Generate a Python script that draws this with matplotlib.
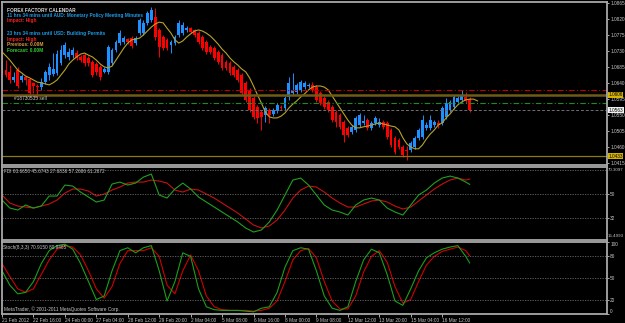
import matplotlib
matplotlib.use('Agg')
import matplotlib.pyplot as plt
import numpy as np

plt.rcParams['font.family'] = ['Liberation Sans', 'DejaVu Sans']

# ---------------- data ----------------
opens = [1.0738, 1.0676, 1.0671, 1.0648, 1.0676, 1.0648, 1.0656, 1.0651, 1.0640, 1.0631,
         1.0628, 1.0642, 1.0662, 1.0665, 1.0668, 1.0696, 1.0718, 1.0713, 1.0718, 1.0724,
         1.0713, 1.0718, 1.0710, 1.0699, 1.0693, 1.0685, 1.0671, 1.0671, 1.0696, 1.0733,
         1.0752, 1.0755, 1.0763, 1.0766, 1.0752, 1.0780, 1.0780, 1.0809, 1.0817, 1.0826,
         1.0789, 1.0769, 1.0761, 1.0747, 1.0752, 1.0775, 1.0780, 1.0789, 1.0794, 1.0789,
         1.0780, 1.0769, 1.0755, 1.0741, 1.0738, 1.0727, 1.0718, 1.0699, 1.0696, 1.0685,
         1.0676, 1.0662, 1.0640, 1.0620, 1.0597, 1.0572, 1.0558, 1.0549, 1.0563, 1.0552,
         1.0561, 1.0572, 1.0569, 1.0600, 1.0611, 1.0614, 1.0620, 1.0628, 1.0631, 1.0634,
         1.0628, 1.0611, 1.0597, 1.0586, 1.0572, 1.0558, 1.0549, 1.0530, 1.0513, 1.0501,
         1.0507, 1.0521, 1.0527, 1.0535, 1.0513, 1.0527, 1.0521, 1.0530, 1.0527, 1.0507,
         1.0485, 1.0479, 1.0459, 1.0451, 1.0451, 1.0459, 1.0485, 1.0487, 1.0513, 1.0513,
         1.0521, 1.0527, 1.0527, 1.0544, 1.0563, 1.0572, 1.0586, 1.0592, 1.0600, 1.0594]

closes = [1.0676, 1.0662, 1.0648, 1.0656, 1.0631, 1.0659, 1.0648, 1.0611, 1.0631, 1.0628,
          1.0642, 1.0671, 1.0685, 1.0679, 1.0721, 1.0733, 1.0747, 1.0727, 1.0733, 1.0710,
          1.0704, 1.0696, 1.0696, 1.0662, 1.0671, 1.0656, 1.0679, 1.0741, 1.0733, 1.0755,
          1.0780, 1.0766, 1.0755, 1.0744, 1.0766, 1.0817, 1.0809, 1.0837, 1.0845, 1.0769,
          1.0741, 1.0738, 1.0738, 1.0755, 1.0769, 1.0809, 1.0803, 1.0794, 1.0783, 1.0775,
          1.0755, 1.0738, 1.0727, 1.0727, 1.0710, 1.0699, 1.0682, 1.0682, 1.0668, 1.0662,
          1.0648, 1.0611, 1.0592, 1.0563, 1.0544, 1.0541, 1.0544, 1.0569, 1.0549, 1.0563,
          1.0578, 1.0569, 1.0597, 1.0640, 1.0620, 1.0634, 1.0642, 1.0640, 1.0634, 1.0620,
          1.0592, 1.0583, 1.0572, 1.0563, 1.0535, 1.0530, 1.0516, 1.0493, 1.0493, 1.0516,
          1.0541, 1.0549, 1.0532, 1.0513, 1.0527, 1.0541, 1.0530, 1.0516, 1.0487, 1.0465,
          1.0445, 1.0459, 1.0437, 1.0448, 1.0471, 1.0485, 1.0507, 1.0535, 1.0521, 1.0535,
          1.0530, 1.0521, 1.0569, 1.0583, 1.0586, 1.0600, 1.0597, 1.0606, 1.0589, 1.0563]

highs = [1.0744, 1.0704, 1.0690, 1.0671, 1.0685, 1.0665, 1.0659, 1.0654, 1.0642, 1.0637,
         1.0654, 1.0676, 1.0696, 1.0724, 1.0733, 1.0747, 1.0755, 1.0738, 1.0741, 1.0733,
         1.0718, 1.0724, 1.0716, 1.0704, 1.0699, 1.0690, 1.0685, 1.0747, 1.0738, 1.0761,
         1.0789, 1.0772, 1.0766, 1.0772, 1.0772, 1.0823, 1.0817, 1.0843, 1.0854, 1.0851,
         1.0794, 1.0775, 1.0766, 1.0761, 1.0775, 1.0817, 1.0811, 1.0800, 1.0797, 1.0792,
         1.0786, 1.0775, 1.0761, 1.0747, 1.0744, 1.0733, 1.0724, 1.0704, 1.0702, 1.0690,
         1.0682, 1.0668, 1.0645, 1.0625, 1.0603, 1.0578, 1.0563, 1.0575, 1.0569, 1.0569,
         1.0583, 1.0578, 1.0603, 1.0656, 1.0668, 1.0640, 1.0648, 1.0645, 1.0640, 1.0642,
         1.0634, 1.0617, 1.0603, 1.0592, 1.0578, 1.0563, 1.0555, 1.0535, 1.0518, 1.0521,
         1.0546, 1.0555, 1.0549, 1.0541, 1.0532, 1.0546, 1.0541, 1.0535, 1.0532, 1.0513,
         1.0490, 1.0485, 1.0465, 1.0462, 1.0476, 1.0490, 1.0513, 1.0549, 1.0530, 1.0549,
         1.0535, 1.0535, 1.0575, 1.0597, 1.0592, 1.0606, 1.0603, 1.0620, 1.0614, 1.0600]

lows = [1.0668, 1.0656, 1.0640, 1.0642, 1.0625, 1.0642, 1.0634, 1.0600, 1.0611, 1.0597,
        1.0620, 1.0637, 1.0648, 1.0659, 1.0662, 1.0690, 1.0710, 1.0704, 1.0710, 1.0704,
        1.0699, 1.0687, 1.0687, 1.0656, 1.0662, 1.0648, 1.0668, 1.0665, 1.0690, 1.0727,
        1.0747, 1.0749, 1.0749, 1.0738, 1.0747, 1.0775, 1.0775, 1.0803, 1.0811, 1.0761,
        1.0713, 1.0733, 1.0733, 1.0724, 1.0747, 1.0769, 1.0775, 1.0783, 1.0780, 1.0769,
        1.0749, 1.0733, 1.0721, 1.0721, 1.0704, 1.0693, 1.0676, 1.0676, 1.0662, 1.0656,
        1.0642, 1.0606, 1.0586, 1.0558, 1.0538, 1.0527, 1.0507, 1.0530, 1.0527, 1.0546,
        1.0555, 1.0563, 1.0563, 1.0592, 1.0606, 1.0609, 1.0614, 1.0623, 1.0625, 1.0614,
        1.0586, 1.0578, 1.0566, 1.0558, 1.0530, 1.0516, 1.0510, 1.0473, 1.0487, 1.0496,
        1.0501, 1.0516, 1.0521, 1.0507, 1.0507, 1.0521, 1.0516, 1.0510, 1.0482, 1.0459,
        1.0440, 1.0454, 1.0431, 1.0423, 1.0445, 1.0454, 1.0479, 1.0482, 1.0507, 1.0507,
        1.0516, 1.0513, 1.0521, 1.0538, 1.0558, 1.0566, 1.0580, 1.0586, 1.0583, 1.0558]

ma_values = [1.0727, 1.0716, 1.0704, 1.0690, 1.0676, 1.0668, 1.0659, 1.0654, 1.0648, 1.0642,
             1.0640, 1.0637, 1.0634, 1.0640, 1.0648, 1.0662, 1.0676, 1.0693, 1.0704, 1.0713,
             1.0721, 1.0724, 1.0718, 1.0713, 1.0704, 1.0693, 1.0685, 1.0682, 1.0687, 1.0704,
             1.0721, 1.0738, 1.0752, 1.0761, 1.0763, 1.0766, 1.0775, 1.0786, 1.0797, 1.0806,
             1.0811, 1.0809, 1.0794, 1.0780, 1.0761, 1.0752, 1.0758, 1.0769, 1.0778, 1.0786,
             1.0789, 1.0786, 1.0780, 1.0772, 1.0761, 1.0749, 1.0735, 1.0724, 1.0710, 1.0699,
             1.0690, 1.0679, 1.0671, 1.0654, 1.0631, 1.0606, 1.0583, 1.0558, 1.0544, 1.0541,
             1.0541, 1.0546, 1.0555, 1.0569, 1.0580, 1.0589, 1.0600, 1.0609, 1.0620, 1.0628,
             1.0631, 1.0631, 1.0628, 1.0620, 1.0603, 1.0586, 1.0569, 1.0552, 1.0535, 1.0521,
             1.0513, 1.0513, 1.0516, 1.0518, 1.0521, 1.0524, 1.0527, 1.0524, 1.0521, 1.0518,
             1.0516, 1.0507, 1.0485, 1.0468, 1.0459, 1.0454, 1.0454, 1.0465, 1.0482, 1.0496,
             1.0507, 1.0521, 1.0527, 1.0541, 1.0552, 1.0566, 1.0578, 1.0586, 1.0592, 1.0594,
             1.0594, 1.0589]

# indicator samples (bar index of each sample)
ind_bars = list(range(0, 120, 2)) + [119]

fdi_green = [45.5, 39.5, 38, 41.75, 39.5, 41, 48.5, 48.5, 56.75, 56,
             51.5, 47.75, 44, 45.5, 57.5, 59, 56.75, 58.25, 62.75, 65,
             49.25, 47, 53.75, 58.25, 53.75, 47.75, 44, 40.25, 36.5, 32.75,
             29, 24.5, 21.5, 23, 29, 38, 49.25, 60.5, 62, 56.75,
             49.25, 41.75, 38, 36.5, 34.25, 41.75, 45.5, 47, 45.5, 39.5,
             36.5, 34.25, 41.75, 49.25, 53, 58.25, 62, 63.5, 62, 59,
             57.27]
fdi_red = [49.25, 43.25, 41, 40.25, 39.5, 41, 42.5, 45.5, 50.75, 53.75,
           53.75, 52.25, 48.5, 50, 53, 55.25, 58.25, 59, 59, 60.5,
           59.75, 58.25, 53, 51.5, 53.75, 53, 50, 47, 43.25, 39.5,
           35.75, 31.25, 26.75, 24.5, 26, 30.5, 38, 47, 53, 56,
           55.25, 51.5, 47, 43.25, 40.25, 40.25, 42.5, 44.75, 45.5, 44,
           41, 38.75, 40.25, 44.75, 49.25, 53.75, 57.5, 60.5, 62, 60.5,
           61.27]

stoch_main = [60, 40, 28, 30, 45, 70, 88, 95, 97, 90,
              70, 45, 20, 25, 60, 88, 92, 85, 92, 95,
              60, 18, 45, 85, 80, 35, 10, 6, 5, 5,
              5, 4, 3, 8, 10, 30, 65, 88, 92, 90,
              60, 25, 8, 5, 10, 45, 75, 90, 85, 55,
              18, 12, 35, 60, 78, 85, 90, 93, 95, 80,
              70.92]
stoch_signal = [70, 52, 35, 30, 35, 55, 75, 90, 95, 93,
                82, 60, 35, 22, 38, 70, 88, 88, 88, 92,
                80, 40, 28, 60, 82, 60, 25, 10, 6, 5,
                5, 5, 4, 5, 8, 18, 45, 75, 88, 91,
                78, 45, 18, 7, 7, 25, 58, 80, 88, 72,
                38, 15, 20, 45, 68, 80, 87, 90, 93, 88,
                80.95]

price_ticks = [1.0865, 1.0820, 1.0775, 1.0730, 1.0685, 1.0640, 1.0595, 1.0550, 1.0505, 1.0460, 1.0415]
time_tick_bars = [0, 8, 16, 24, 32, 40, 48, 56, 64, 72, 80, 88, 96, 104, 112]
time_labels = ["21 Feb 2012", "22 Feb 16:00", "24 Feb 00:00", "27 Feb 04:00", "28 Feb 12:00",
               "29 Feb 20:00", "2 Mar 04:00", "5 Mar 08:00", "6 Mar 16:00", "8 Mar 00:00",
               "9 Mar 08:00", "12 Mar 12:00", "13 Mar 20:00", "15 Mar 04:00", "16 Mar 12:00"]

stop_loss = 1.0619
open_price = 1.0606
take_level = 1.0583
bid_price = 1.0563
low_line = 1.0433

fdi_levels = [68, 50, 32]
fdi_min, fdi_max = 15.4993, 70.3097
stoch_levels = [80, 50, 20]

calendar_lines = [
    "FOREX FACTORY CALENDAR",
    "11 hrs 34 mins until AUD: Monetary Policy Meeting Minutes",
    "Impact: High",
    "23 hrs 34 mins until USD: Building Permits",
    "Impact: High",
    "Previous: 0.00M",
    "Forecast: 0.00M",
]

# ---------------- layout / style ----------------
calendar_colors = ['#d8d8d8', '#1e9be6', '#ff2020', '#1e9be6', '#ff2020', '#d8a040', '#30d030']
calendar_ypx = [10, 15, 20.5, 34, 39, 44.5, 50]

W, H = 625, 323
fig = plt.figure(figsize=(W / 100, H / 100), dpi=100, facecolor='black')


def rect(x0, y0, x1, y1):
    return [x0 / W, 1 - y1 / H, (x1 - x0) / W, (y1 - y0) / H]


BORDER = '#a8a8a8'
TXT = '#c8c8c8'
FS = 3.4

ax = fig.add_axes(rect(2, 2, 607, 165))
ax_f = fig.add_axes(rect(2, 167, 607, 240))
ax_s = fig.add_axes(rect(2, 242, 607, 314))

xmax = 605 / 3.93
for a in (ax, ax_f, ax_s):
    a.set_facecolor('black')
    a.set_xlim(0, xmax)
    for s in a.spines.values():
        s.set_color(BORDER)
        s.set_linewidth(1.3)
    a.yaxis.tick_right()
    a.tick_params(axis='y', colors=TXT, labelsize=FS, length=1.5, width=0.6, pad=0.8)
    a.tick_params(axis='x', colors=TXT, labelsize=FS, length=2.5, width=0.6, pad=0.5)
    a.set_xticks([])

# ---------------- main chart ----------------
o = np.array(opens); c = np.array(closes); h = np.array(highs); l = np.array(lows)
x = np.arange(len(o))
up = c >= o
cols = np.where(up, '#1e90ff', '#ff0000')
ax.vlines(x, l, h, colors=cols, linewidth=0.7)
body_bottom = np.minimum(o, c)
body_h = np.maximum(np.abs(c - o), 0.00025)
ax.bar(x, body_h, bottom=body_bottom, width=0.72, color=cols, linewidth=0)
ax.plot(np.arange(len(ma_values)), ma_values, color='#b8a22a', linewidth=0.8)

ax.axhline(stop_loss, color='#c00000', linewidth=0.8, linestyle=(0, (5, 2, 1, 2)))
ax.axhline(open_price, color='#6e5c14', linewidth=1.8)
ax.axhline(take_level, color='#1f8a1f', linewidth=0.8, linestyle=(0, (5, 2, 1, 2)))
ax.axhline(bid_price, color='#707070', linewidth=0.7, linestyle=(0, (3, 2)))
ax.axhline(low_line, color='#8c7a10', linewidth=0.9)

ax.set_ylim(1.04083, 1.08678)
ax.set_yticks(price_ticks)
ax.set_yticklabels([f"{p:.4f}" for p in price_ticks])


def box_label(a, y, txt, fc):
    a.annotate(txt, xy=(1.0, y), xycoords=('axes fraction', 'data'), xytext=(1.0, 0),
               textcoords='offset points', va='center', ha='left', fontsize=FS, color='black',
               bbox=dict(boxstyle='square,pad=0.12', fc=fc, ec='none'), annotation_clip=False)


box_label(ax, open_price, f"{open_price:.4f}", '#d8b400')
box_label(ax, bid_price, f"{bid_price:.4f}", '#f0f0f0')
box_label(ax, low_line, f"{low_line:.4f}", '#d8b400')

ax.text(3, 1.05945, "#18730535 sell", fontsize=FS, color=TXT, va='center', ha='left')

for t, col, ypx in zip(calendar_lines, calendar_colors, calendar_ypx):
    ax.text(5 / 605, 1 - (ypx - 2) / 163, t, transform=ax.transAxes, fontsize=FS,
            color=col, va='center', ha='left', fontweight='bold')

# ---------------- FDI ----------------
ax_f.plot(ind_bars, fdi_red, color='#c81010', linewidth=0.8)
ax_f.plot(ind_bars, fdi_green, color='#20a020', linewidth=0.8)
for lv in fdi_levels:
    ax_f.axhline(lv, color='#6a6a6a', linewidth=0.6, linestyle=(0, (1.5, 1.5)))
ax_f.set_ylim(fdi_min, fdi_max)
ax_f.set_yticks([50, 32])
ax_f.set_yticklabels(["50", "32"])
ax_f.text(1.0015, 0.955, f"{fdi_max:.4f}", transform=ax_f.transAxes, fontsize=3.2, color=TXT,
          va='center', ha='left')
ax_f.text(1.0015, 0.05, f"{fdi_min:.4f}", transform=ax_f.transAxes, fontsize=3.2, color=TXT,
          va='center', ha='left')
ax_f.text(0.004, 0.945, "FDI 63.6650 45.6743 27.6836 57.2686 61.2672", transform=ax_f.transAxes,
          fontsize=FS, color=TXT, va='center', ha='left')

# ---------------- Stochastic ----------------
ax_s.plot(ind_bars, stoch_signal, color='#d00000', linewidth=0.8)
ax_s.plot(ind_bars, stoch_main, color='#1aa01a', linewidth=0.8)
for lv in stoch_levels:
    ax_s.axhline(lv, color='#6a6a6a', linewidth=0.6, linestyle=(0, (1.5, 1.5)))
ax_s.set_ylim(0, 100)
ax_s.set_yticks([0, 20, 50, 80, 100])
ax_s.set_yticklabels(["0", "20", "50", "80", "100"])
tl = ax_s.get_yticklabels()
tl[0].set_va('bottom')
tl[-1].set_va('top')
ax_s.text(0.002, 0.93, "Stoch(8,3,3) 70.9150 80.9465", transform=ax_s.transAxes,
          fontsize=FS, color=TXT, va='center', ha='left')
ax_s.text(0.004, 0.07, "MetaTrader, \u00a9 2001-2011 MetaQuotes Software Corp.", transform=ax_s.transAxes,
          fontsize=FS, color=TXT, va='center', ha='left')

ax_s.set_xticks(time_tick_bars)
ax_s.set_xticklabels(time_labels)
for lab in ax_s.get_xticklabels():
    lab.set_ha('left')

fig.savefig('out.png', dpi=100, facecolor='black')
